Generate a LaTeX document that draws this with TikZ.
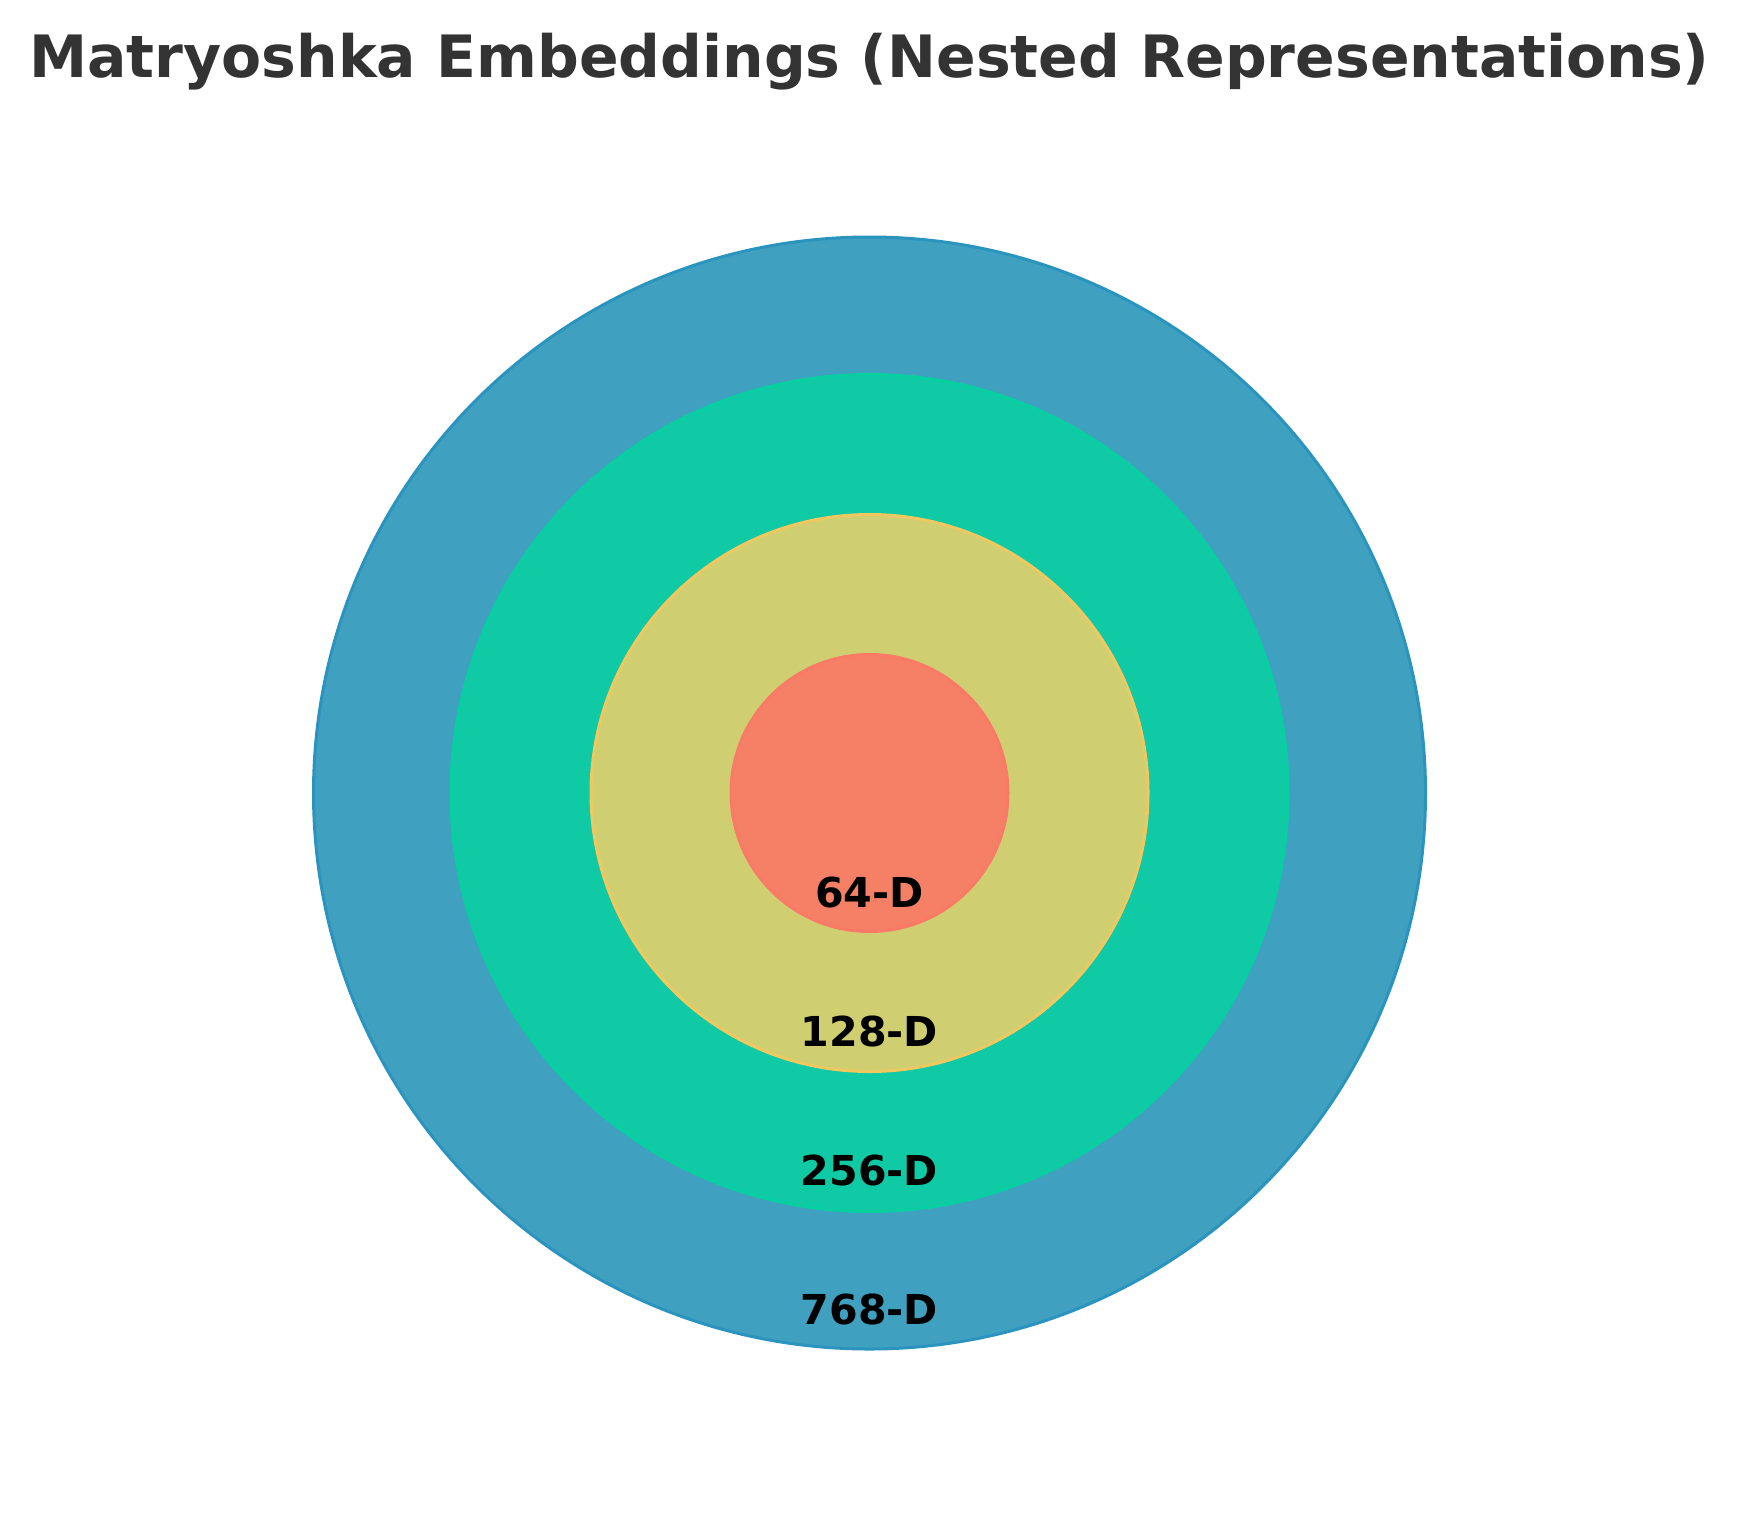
\documentclass[tikz,border=0pt]{standalone}
\usepackage{fontspec}
\setmainfont{DejaVu Sans}
\definecolor{titlegray}{HTML}{333333}
\definecolor{blueFill}{HTML}{40A0C0}
\definecolor{blueEdge}{HTML}{2A94BE}
\definecolor{tealFill}{HTML}{10CAA6}
\definecolor{tealEdge}{HTML}{08CFA2}
\definecolor{sandFill}{HTML}{CFCF72}
\definecolor{sandEdge}{HTML}{F0C860}
\definecolor{coralFill}{HTML}{F58066}
\definecolor{coralEdge}{HTML}{FA7A66}
\begin{document}
\begin{tikzpicture}[
        x=0.5pt, y=-0.5pt,
        layer/.style={circle, draw, line width=1.5pt, inner sep=0pt, outer sep=0pt},
        dimlabel/.style={font=\bfseries\fontsize{20.6}{25}\selectfont, text=black},
        headline/.style={font=\bfseries\fontsize{29.2}{35}\selectfont, text=titlegray, anchor=base}
        ]
        \useasboundingbox (0,0) rectangle (1739,1516);
        \coordinate (core) at (869.5,793);

        % Title
        \node[headline] (title) at (869.5,77) {Matryoshka Embeddings (Nested Representations)};

        % Nested layers, outermost first
        \node[layer, draw=blueEdge, fill=blueFill, minimum size=556pt] (d768) at (core) {};
        \node[layer, draw=tealEdge, fill=tealFill, minimum size=418.5pt] (d256) at (core) {};
        \node[layer, draw=sandEdge, fill=sandFill, minimum size=278.5pt] (d128) at (core) {};
        \node[layer, draw=coralEdge, fill=coralFill, minimum size=138.5pt] (d64) at (core) {};

        % Dimension labels
        \node[dimlabel] (l64) at (869.5,893) {64-D};
        \node[dimlabel] (l128) at (869.5,1031) {128-D};
        \node[dimlabel] (l256) at (869.5,1170) {256-D};
        \node[dimlabel] (l768) at (869.5,1309) {768-D};

    \end{tikzpicture}
\end{document}
